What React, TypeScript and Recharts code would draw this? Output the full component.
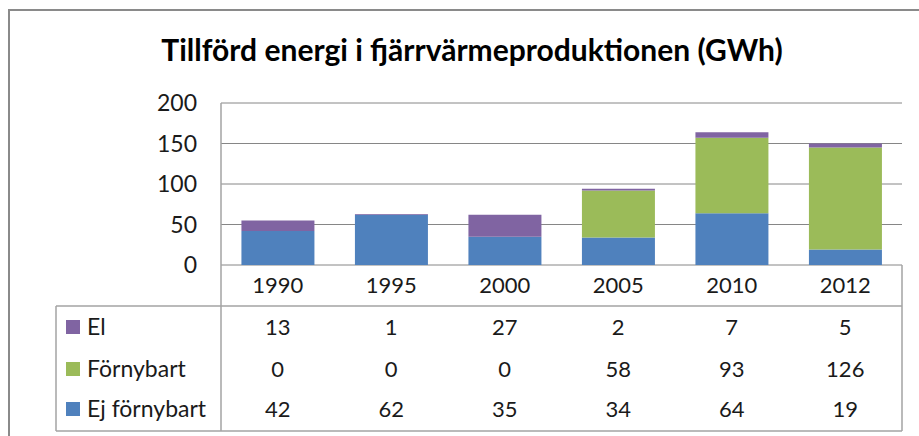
import React from "react";
import { Bar, BarChart, CartesianGrid, XAxis, YAxis } from "recharts";

// Tillförd energi i fjärrvärmeproduktionen (GWh), stacked columns + Excel-style data table

const years = ["1990", "1995", "2000", "2005", "2010", "2012"];
const el = [13, 1, 27, 2, 7, 5];
const fornybart = [0, 0, 0, 58, 93, 126];
const ejFornybart = [42, 62, 35, 34, 64, 19];
const yTicks = [0, 50, 100, 150, 200];

const TITLE = "Tillförd energi i fjärrvärmeproduktionen (GWh)";

const BLUE = "#4f81bd";
const GREEN = "#9bbb59";
const PURPLE = "#8064a2";
const GRID = "#868686";
const TABLE_LINE = "#a3a3a3";
const FONT = "Lato, 'Open Sans', sans-serif";

// rows of the data table, top to bottom
const tableRows = [
  { name: "El", values: el, color: PURPLE },
  { name: "Förnybart", values: fornybart, color: GREEN },
  { name: "Ej förnybart", values: ejFornybart, color: BLUE },
];

const data = years.map((year, i) => ({
  year,
  ejFornybart: ejFornybart[i],
  fornybart: fornybart[i],
  el: el[i],
}));

// row baselines, relative to the x axis line
const YEAR_DY = 28;
const ROW_DY = [70, 112, 152];

function TableTick(props: any) {
  const { x, y, payload } = props;
  const i = payload.index;
  return (
    <g fontFamily={FONT} fontSize={22} fill="#1a1a1a" textAnchor="middle">
      <text x={x} y={y + YEAR_DY}>
        {payload.value}
      </text>
      {tableRows.map((row, r) => (
        <text key={row.name} x={x} y={y + ROW_DY[r]}>
          {row.values[i]}
        </text>
      ))}
    </g>
  );
}

export default function App() {
  const axisY = 265;
  return (
    <div
      style={{
        position: "absolute",
        left: 0,
        top: 0,
        width: 919,
        height: 436,
        background: "#fff",
      }}
    >
      <BarChart
        width={919}
        height={436}
        data={data}
        margin={{ top: 103, right: 17, bottom: 0, left: 0 }}
        barCategoryGap="18%"
      >
        <CartesianGrid stroke={GRID} vertical={false} />
        <XAxis
          dataKey="year"
          height={171}
          axisLine={false}
          tickLine={false}
          tickSize={0}
          tickMargin={0}
          interval={0}
          tick={(p: any) => <TableTick {...p} />}
        />
        <YAxis
          width={221}
          domain={[0, 200]}
          ticks={yTicks}
          axisLine={false}
          tickLine={false}
          tickSize={0}
          tickMargin={24}
          tick={{ fontFamily: FONT, fontSize: 23, fill: "#1a1a1a" }}
        />
        <Bar dataKey="ejFornybart" stackId="a" fill={BLUE} isAnimationActive={false} />
        <Bar dataKey="fornybart" stackId="a" fill={GREEN} isAnimationActive={false} />
        <Bar dataKey="el" stackId="a" fill={PURPLE} isAnimationActive={false} />
      </BarChart>

      <svg
        width={919}
        height={436}
        style={{ position: "absolute", left: 0, top: 0, pointerEvents: "none" }}
      >
        {/* chart frame */}
        <path d="M9,436 V10 H919" fill="none" stroke="#8a8a8a" strokeWidth={2} />

        <text
          x={472}
          y={61}
          textAnchor="middle"
          fontFamily={FONT}
          fontWeight={700}
          fontSize={30}
          fill="#000"
        >
          {TITLE}
        </text>

        {/* data table borders */}
        <g stroke={TABLE_LINE} strokeWidth={1.5} fill="none">
          <line x1={221} y1={103} x2={221} y2={431} />
          <line x1={902} y1={axisY} x2={902} y2={431} />
          <line x1={56} y1={306} x2={902} y2={306} />
          <line x1={56} y1={431} x2={902} y2={431} />
          <line x1={56} y1={306} x2={56} y2={431} />
        </g>

        {/* legend keys */}
        {tableRows.map((row, r) => (
          <g key={row.name}>
            <rect x={66} y={axisY + ROW_DY[r] - 15} width={14} height={14} fill={row.color} />
            <text x={87} y={axisY + ROW_DY[r]} fontFamily={FONT} fontSize={23} fill="#1a1a1a">
              {row.name}
            </text>
          </g>
        ))}
      </svg>
    </div>
  );
}
